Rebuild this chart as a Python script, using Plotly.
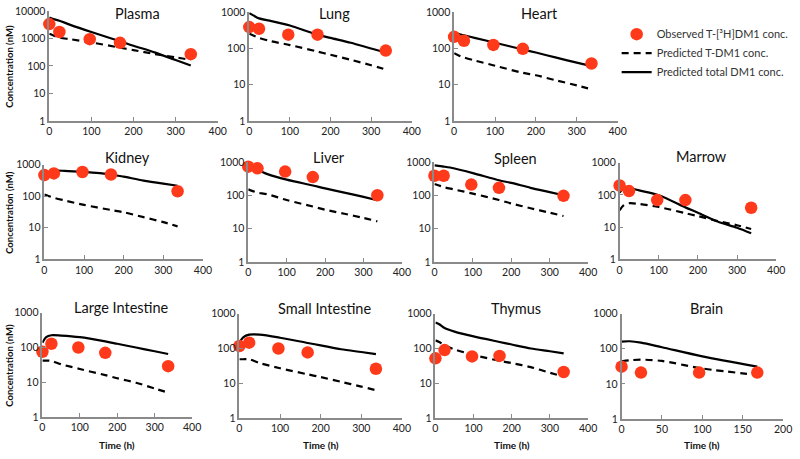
import plotly.graph_objects as go

# ---------------- data ----------------
OBS_T = [0, 24, 96, 168, 336]
BRAIN_OBS_T = [0, 24, 96, 168]
PRED_T = [0, 10, 24, 50, 100, 168, 200, 250, 300, 336]
BRAIN_PRED_T = [0, 10, 24, 50, 100, 168]

plasma_obs = [3300, 1700, 935, 690, 267]
plasma_total = [5800, 5000, 4400, 3100, 1700, 790, 540, 310, 163, 103]
plasma_tdm1 = [1480, 1270, 1070, 930, 710, 460, 375, 270, 205, 165]

lung_obs = [380, 343, 236, 236, 86]
lung_total = [920, 800, 660, 573, 420, 236, 192, 141, 98, 76]
lung_tdm1 = [250, 223, 192, 159, 122, 81, 66, 48, 34, 26]

heart_obs = [205, 160, 123, 96, 38]
heart_total = [263, 247, 226, 193, 141, 92, 76, 55, 40, 32]
heart_tdm1 = [73, 64, 56, 46, 33, 21, 18, 13, 9.5, 7.4]

kidney_obs = [470, 530, 590, 490, 144]
kidney_total = [437, 553, 640, 640, 590, 490, 417, 314, 250, 215]
kidney_tdm1 = [113, 102, 89, 74, 53, 36.5, 31, 21.6, 15, 11]

liver_obs = [715, 640, 510, 350, 100]
liver_total = [640, 610, 572, 428, 293, 196, 160, 120, 89, 71]
liver_tdm1 = [150, 135, 120, 107, 72, 46, 37, 28, 21, 16.6]

spleen_obs = [383, 383, 209, 167, 96]
spleen_total = [780, 760, 720, 640, 460, 282, 234, 167, 124, 100]
spleen_tdm1 = [218, 200, 175, 150, 112, 72, 57, 41, 30, 24]

marrow_obs = [196, 132, 69, 69, 40]
marrow_total = [118, 159, 166, 138, 98, 41, 28, 15, 9.5, 6.4]
marrow_tdm1 = [33, 47, 55, 52, 42, 27, 22, 15.5, 11.4, 8.7]

lint_obs = [75, 128, 100, 70, 29]
lint_total = [137, 198, 225, 220, 198, 150, 128, 100, 78, 65]
lint_tdm1 = [42, 42, 41, 33, 24, 16, 13, 9.7, 6.6, 5]

sint_obs = [118, 147, 100, 77, 26]
sint_total = [147, 212, 250, 250, 204, 144, 123, 95, 79, 69]
sint_tdm1 = [49, 49, 49, 38, 27, 18, 15, 11, 8, 6.3]

thymus_obs = [52, 90, 59, 61, 21]
thymus_total = [560, 500, 387, 305, 222, 154, 130, 100, 83, 72]
thymus_tdm1 = [171, 154, 124, 94, 65, 44, 38, 29, 20, 15.5]

brain_obs = [31, 21, 21, 21]
brain_total = [161, 164, 150, 111, 61, 31]
brain_tdm1 = [44, 47, 49, 45, 27.5, 18]

LEGEND_NAMES = ["Observed T-[³H]DM1 conc.", "Predicted T-DM1 conc.", "Predicted total DM1 conc."]
Y_TICKS_4 = [1, 10, 100, 1000, 10000]
Y_TICKS_3 = [1, 10, 100, 1000]
X_TICKS = [0, 100, 200, 300, 400]
BRAIN_X_TICKS = [0, 50, 100, 150, 200]

# name, obs_t, obs, pred_t, total, tdm1, px box (x0, x1, ytop, ybottom, title_y), decades, xmax, xticks
panels = [
    ("Plasma", OBS_T, plasma_obs, PRED_T, plasma_total, plasma_tdm1, (47, 218, 5, 118, 8), 4, 400, X_TICKS),
    ("Lung", OBS_T, lung_obs, PRED_T, lung_total, lung_tdm1, (250, 415, 6, 118, 8), 3, 400, X_TICKS),
    ("Heart", OBS_T, heart_obs, PRED_T, heart_total, heart_tdm1, (458, 624, 6, 118, 8), 3, 400, X_TICKS),
    ("Kidney", OBS_T, kidney_obs, PRED_T, kidney_total, kidney_tdm1, (42, 203, 163, 260, 156), 3, 400, X_TICKS),
    ("Liver", OBS_T, liver_obs, PRED_T, liver_total, liver_tdm1, (249, 405, 160, 263, 156), 3, 400, X_TICKS),
    ("Spleen", OBS_T, spleen_obs, PRED_T, spleen_total, spleen_tdm1, (438, 594, 160, 263, 157), 3, 400, X_TICKS),
    ("Marrow", OBS_T, marrow_obs, PRED_T, marrow_total, marrow_tdm1, (626, 785, 161, 260, 155), 3, 400, X_TICKS),
    ("Large Intestine", OBS_T, lint_obs, PRED_T, lint_total, lint_tdm1, (40, 192, 315, 422, 310), 3, 400, X_TICKS),
    ("Small Intestine", OBS_T, sint_obs, PRED_T, sint_total, sint_tdm1, (240, 405, 316, 423, 311), 3, 400, X_TICKS),
    ("Thymus", OBS_T, thymus_obs, PRED_T, thymus_total, thymus_tdm1, (439, 594, 316, 423, 311), 3, 400, X_TICKS),
    ("Brain", BRAIN_OBS_T, brain_obs, BRAIN_PRED_T, brain_total, brain_tdm1, (628, 792, 316, 424, 311), 3, 200, BRAIN_X_TICKS),
]

W, H = 800, 459
RED = "#FF3A1A"
AXC = "#8a8a8a"
FONT = "Lato"

fig = go.Figure()
layout = dict(
    width=W, height=H, margin=dict(l=0, r=0, t=0, b=0),
    paper_bgcolor="white", plot_bgcolor="white",
    font=dict(family=FONT, color="#222"),
    showlegend=True,
    legend=dict(x=623 / W, y=1 - 14 / H, xanchor="left", yanchor="top",
                font=dict(size=11, family=FONT, color="#333"),
                itemwidth=30, tracegroupgap=0, bgcolor="rgba(0,0,0,0)"),
)
annotations = []

for i, (name, ot, ov, pt, tot, tdm, box, dec, xmax, xt) in enumerate(panels):
    k = "" if i == 0 else str(i + 1)
    x0, x1, yt, yb, ty = box
    xa = dict(domain=[x0 / W, x1 / W], range=[0, xmax], tickvals=xt,
              showline=True, linecolor=AXC, linewidth=1.5, ticks="inside", ticklen=4,
              tickcolor=AXC, showgrid=False, zeroline=False, anchor="y" + k,
              tickfont=dict(size=10.5, family=FONT, color="#222"))
    yticks = Y_TICKS_4 if dec == 4 else Y_TICKS_3
    ya = dict(domain=[1 - yb / H, 1 - yt / H], type="log", range=[0, dec],
              tickvals=yticks, ticktext=[str(v) for v in yticks],
              showline=True, linecolor=AXC, linewidth=1.5, ticks="inside", ticklen=4,
              tickcolor=AXC, showgrid=False, zeroline=False, anchor="x" + k,
              tickfont=dict(size=10.5, family=FONT, color="#222"))
    layout["xaxis" + k] = xa
    layout["yaxis" + k] = ya
    first = i == 0
    fig.add_trace(go.Scatter(x=pt, y=tot, mode="lines", xaxis="x" + k, yaxis="y" + k,
                             line=dict(color="black", width=2.2, shape="spline", smoothing=0.8),
                             name=LEGEND_NAMES[2], legendrank=3, showlegend=first))
    fig.add_trace(go.Scatter(x=pt, y=tdm, mode="lines", xaxis="x" + k, yaxis="y" + k,
                             line=dict(color="black", width=2.2, dash="7px,5px", shape="spline", smoothing=0.8),
                             name=LEGEND_NAMES[1], legendrank=2, showlegend=first))
    fig.add_trace(go.Scatter(x=ot, y=ov, mode="markers", xaxis="x" + k, yaxis="y" + k,
                             marker=dict(color=RED, size=12.5, line=dict(width=0)),
                             cliponaxis=False,
                             name=LEGEND_NAMES[0], legendrank=1, showlegend=first))
    # panel title
    annotations.append(dict(text=name, x=(x0 + x1) / 2 / W + 0.005, y=1 - ty / H,
                            xref="paper", yref="paper", xanchor="center", yanchor="middle",
                            showarrow=False, font=dict(size=14.5, family=FONT, color="#111")))
    # left column y labels
    if x0 < 60:
        annotations.append(dict(text="<b>Concentration (nM)</b>", x=7 / W, y=1 - (yt + yb) / 2 / H,
                                xref="paper", yref="paper", xanchor="center", yanchor="middle",
                                textangle=-90, showarrow=False,
                                font=dict(size=9.5, family=FONT, color="#111")))
    # bottom row x labels
    if yt > 300:
        annotations.append(dict(text="<b>Time (h)</b>", x=(x0 + x1) / 2 / W, y=1 - 451 / H,
                                xref="paper", yref="paper", xanchor="center", yanchor="middle",
                                showarrow=False, font=dict(size=10, family=FONT, color="#111")))

layout["annotations"] = annotations
fig.update_layout(**layout)
fig.write_html("out.html", config={"displayModeBar": False},
               post_script="document.body.style.margin='0px';")
